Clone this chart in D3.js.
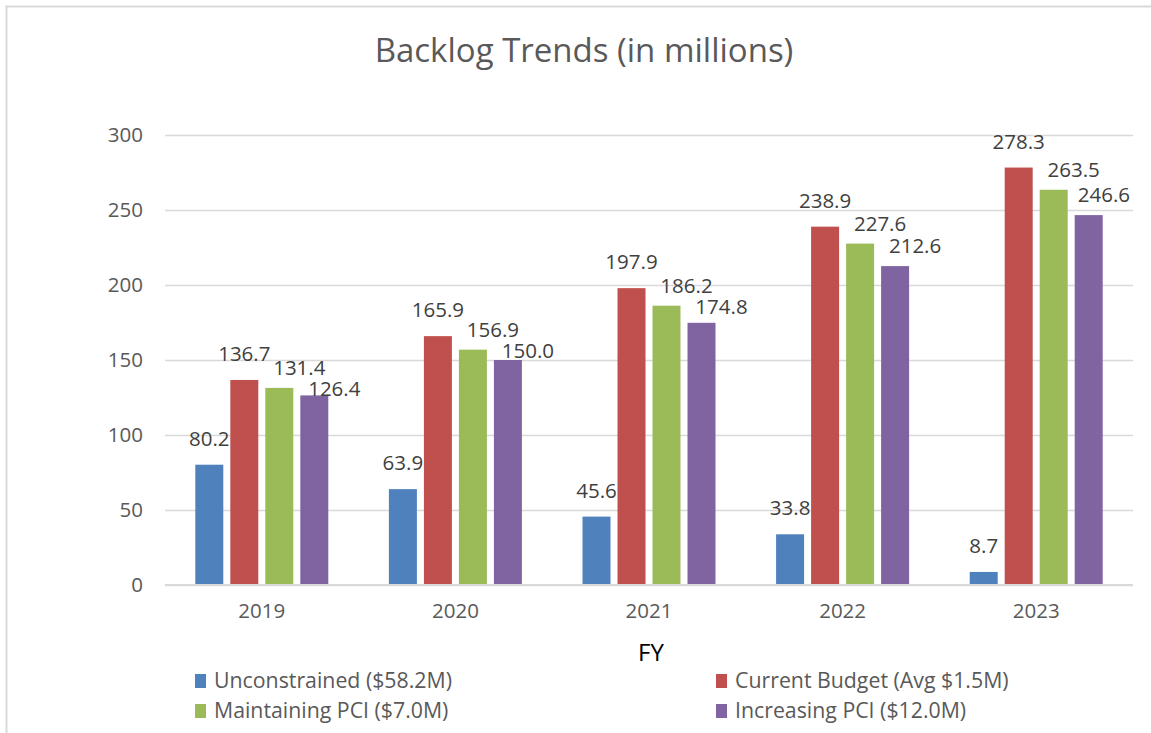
<!DOCTYPE html>
<html>
<head>
<meta charset="utf-8">
<script src="https://cdn.jsdelivr.net/npm/d3@7"></script>
<style>
  html, body { margin: 0; padding: 0; background: #fff; }
  svg { display: block; font-family: "Open Sans", sans-serif; }
</style>
</head>
<body>
<svg id="chart" width="1151" height="733"></svg>
<script>
// ---- data ----
const years = ["2019", "2020", "2021", "2022", "2023"];
const seriesNames = [
  "Unconstrained ($58.2M)",
  "Current Budget (Avg $1.5M)",
  "Maintaining PCI ($7.0M)",
  "Increasing PCI ($12.0M)"
];
const unconstrained = [80.2, 63.9, 45.6, 33.8, 8.7];
const currentBudget = [136.7, 165.9, 197.9, 238.9, 278.3];
const maintainingPCI = [131.4, 156.9, 186.2, 227.6, 263.5];
const increasingPCI = [126.4, 150.0, 174.8, 212.6, 246.6];
const yTicks = [0, 50, 100, 150, 200, 250, 300];
const colors = ["#4F81BD", "#C0504D", "#9BBB59", "#8064A2"];
const title = "Backlog Trends (in millions)";
const xTitle = "FY";

const seriesValues = [unconstrained, currentBudget, maintainingPCI, increasingPCI];

// ---- layout ----
const svg = d3.select("#chart");
const plot = { left: 165, right: 1133, top: 135, bottom: 585 };
const textGray = "#595959";

// chart border (only top/left visible in the reference)
svg.append("rect")
  .attr("x", 6.5).attr("y", 6.5)
  .attr("width", 1170).attr("height", 760)
  .attr("fill", "none").attr("stroke", "#D9D9D9").attr("stroke-width", 2);

const y = d3.scaleLinear().domain([0, 300]).range([plot.bottom, plot.top]);
const x0 = d3.scaleBand().domain(years).range([plot.left, plot.right])
  .paddingInner(0.313).paddingOuter(0.1565);
const x1 = d3.scaleBand().domain(d3.range(seriesNames.length))
  .range([0, x0.bandwidth()]).paddingInner(0.2);

// gridlines
const yAxis = d3.axisLeft(y).tickValues(yTicks).tickSize(-(plot.right - plot.left)).tickPadding(22);
const gy = svg.append("g").attr("transform", `translate(${plot.left},0)`).call(yAxis);
gy.select(".domain").remove();
gy.selectAll(".tick line").attr("stroke", "#D9D9D9").attr("stroke-width", 1.3);
gy.selectAll(".tick text").attr("fill", textGray).attr("font-size", 20.5)
  .attr("font-family", "Open Sans, sans-serif");

// bars
const groups = svg.append("g").selectAll("g").data(years).join("g")
  .attr("transform", d => `translate(${x0(d)},0)`);

groups.selectAll("rect")
  .data((d, i) => seriesValues.map((s, k) => ({ k, v: s[i] })))
  .join("rect")
  .attr("x", d => x1(d.k))
  .attr("width", x1.bandwidth())
  .attr("y", d => y(d.v))
  .attr("height", d => y(0) - y(d.v))
  .attr("fill", d => colors[d.k]);

// data labels: outside end, nudged (right/down) when they collide, like the original
const labelGap = 19, capH = 15, descent = 4, nudgeX = 20, nudgeY = 6, vMargin = 4, stackGap = 2;
const labelLayer = svg.append("g");
years.forEach((yr, i) => {
  const placed = [];
  seriesValues.forEach((s, k) => {
    const v = s[i];
    const t = labelLayer.append("text")
      .attr("text-anchor", "middle")
      .attr("fill", "#404040")
      .attr("font-size", 20.5)
      .text(v.toFixed(1));
    const w = t.node().getComputedTextLength();
    let cx = x0(yr) + x1(k) + x1.bandwidth() / 2;
    let base = y(v) - labelGap;
    const box = (cx, base) => ({ l: cx - w / 2, r: cx + w / 2, t: base - capH, b: base + descent });
    const hits = (b) => placed.some(p =>
      b.l < p.r && b.r > p.l && b.t < p.b + vMargin && b.b + vMargin > p.t);
    if (hits(box(cx, base))) {
      cx += nudgeX;
      if (cx + w / 2 > plot.right - 3) cx = plot.right - 3 - w / 2;
      base += nudgeY;
      // push down below any label it still overlaps horizontally
      placed.forEach(p => {
        const b = box(cx, base);
        if (b.l < p.r && b.r > p.l && b.t < p.b) base = Math.max(base, p.base + capH + descent + stackGap);
      });
    }
    const fb = box(cx, base);
    fb.base = base;
    placed.push(fb);
    t.attr("x", cx).attr("y", base);
  });
});

// x axis baseline
const xAxis = d3.axisBottom(x0).tickSize(0).tickPadding(18);
const gx = svg.append("g").attr("transform", `translate(0,${plot.bottom})`).call(xAxis);
gx.select(".domain").attr("stroke", "#D9D9D9").attr("stroke-width", 2)
  .attr("d", `M${plot.left},0H${plot.right}`);
gx.selectAll(".tick text").attr("fill", textGray).attr("font-size", 20.5)
  .attr("font-family", "Open Sans, sans-serif");

// title
svg.append("text")
  .attr("x", 584).attr("y", 62)
  .attr("text-anchor", "middle")
  .attr("fill", textGray).attr("font-size", 33)
  .text(title);

// x axis title
svg.append("text")
  .attr("x", (plot.left + plot.right) / 2 + 2).attr("y", 661)
  .attr("text-anchor", "middle")
  .attr("fill", "#000").attr("font-size", 24)
  .text(xTitle);

// legend
const legendPos = [
  { x: 195, y: 681 }, { x: 716, y: 681 },
  { x: 195, y: 711 }, { x: 716, y: 711 }
];
const lg = svg.append("g").selectAll("g").data(seriesNames).join("g")
  .attr("transform", (d, i) => `translate(${legendPos[i].x},${legendPos[i].y})`);
lg.append("rect").attr("x", 0).attr("y", -7).attr("width", 11).attr("height", 14)
  .attr("fill", (d, i) => colors[i]);
lg.append("text").attr("x", 19).attr("y", 0).attr("dy", "0.35em")
  .attr("fill", textGray).attr("font-size", 21.3)
  .text(d => d);
</script>
</body>
</html>
